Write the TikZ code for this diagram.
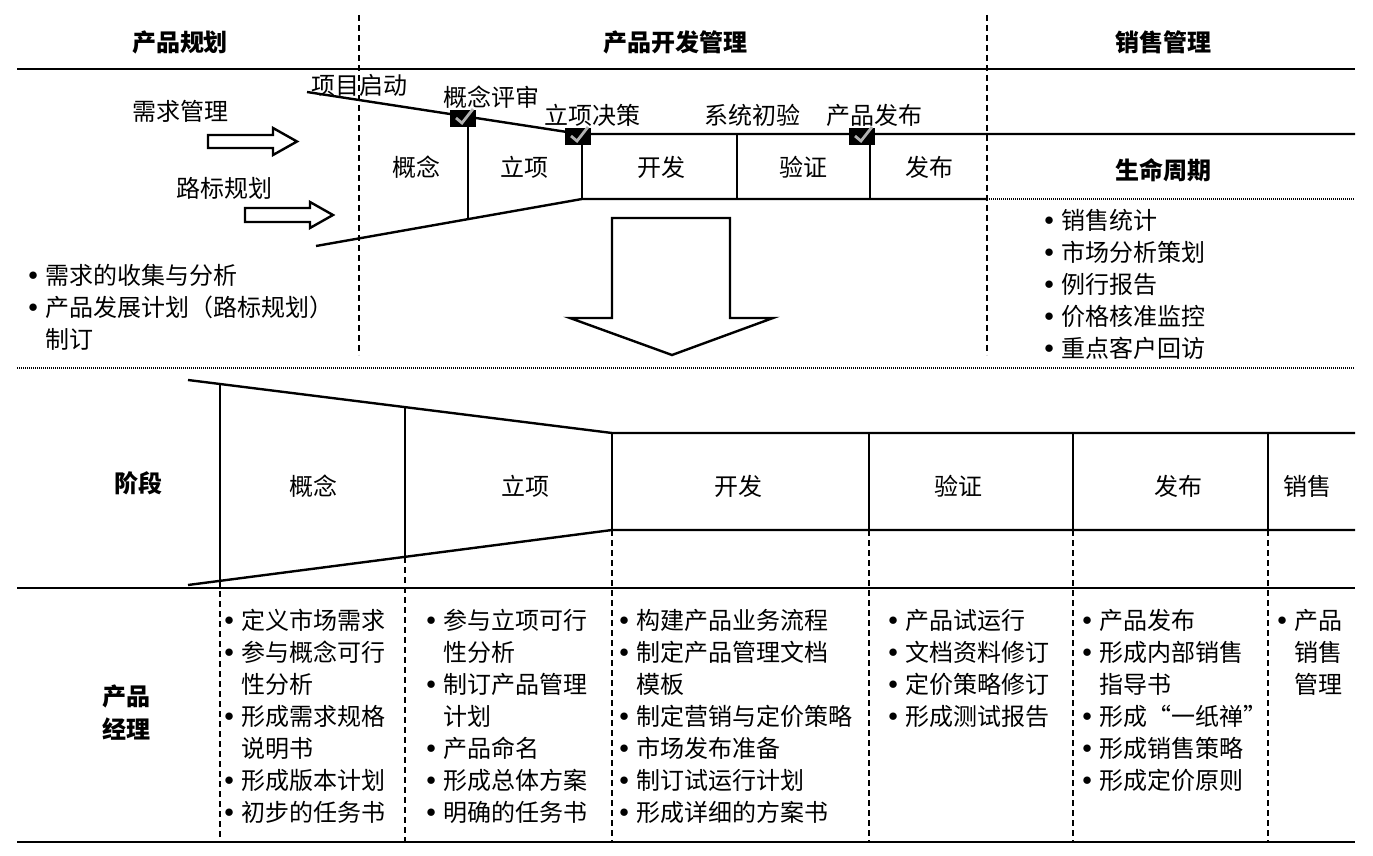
\documentclass[tikz,border=0pt]{standalone}
\usepackage{fontspec}
\setmainfont{Noto Sans CJK SC}

\newcommand{\itm}{\makebox[0.7em][l]{\raisebox{0.3ex}{\scalebox{0.8}{$\bullet$}}}}
\newcommand{\cnt}{\hspace*{0.7em}}

\tikzset{
  hdr/.style={font=\bfseries\fontsize{12}{16}\selectfont, inner sep=0pt},
  lbl/.style={font=\fontsize{12}{16}\selectfont, inner sep=0pt},
  lst/.style={font=\fontsize{12}{16}\selectfont, align=left, anchor=north west, inner sep=0pt},
  solidline/.style={line width=1.2pt},
  divider/.style={line width=1pt},
  dashsep/.style={line width=1pt, dash pattern=on 3pt off 2pt},
  dotrule/.style={line width=1.3pt, dash pattern=on 0.5pt off 0.5pt},
  blockarrow/.style={draw, line width=1.2pt, fill=white},
}

\begin{document}
\begin{tikzpicture}[x=0.5pt, y=-0.5pt]
  \useasboundingbox (0,0) rectangle (1373,856);

  % Column headers
  \node[hdr] (hplan) at (180,42) {产品规划};
  \node[hdr] (hdev) at (675,42) {产品开发管理};
  \node[hdr] (hsale) at (1163,42) {销售管理};
  \draw[solidline] (17,69) -- (1355,69);
  \draw[dashsep] (359,15) -- (359,355);
  \draw[dashsep] (987,15) -- (987,355);

  % Top funnel
  \coordinate (fa) at (307,92);
  \coordinate (fb) at (580,134);
  \coordinate (fc) at (316,246);
  \coordinate (fd) at (582,199);
  \draw[solidline] (fa) -- (fb) -- (1355,134);
  \draw[solidline] (fc) -- (fd) -- (987,199);
  \draw[dotrule] (987,199) -- (1355,199);
  \draw[divider] (468,116) -- (468,219);
  \foreach \x in {582,737,870} {
    \draw[divider] (\x,134) -- (\x,199);
  }

  % Milestone gates
  \foreach \x/\y in {463/119, 578/137, 862/137} {
    \fill (\x-13,\y-9) rectangle (\x+13,\y+8);
    \draw[gray!60, line width=1.4pt] (\x-7,\y-1) -- (\x-1,\y+4) -- (\x+10,\y-10);
  }
  \node[lbl] (mstart) at (359,85) {项目启动};
  \node[lbl] (mconc) at (491,97) {概念评审};
  \node[lbl] (mdec) at (592,115) {立项决策};
  \node[lbl] (mtest) at (752,115) {系统初验};
  \node[lbl] (mrel) at (874,115) {产品发布};

  % Phases (top)
  \node[lbl] (tconc) at (416,167) {概念};
  \node[lbl] (tinit) at (524,167) {立项};
  \node[lbl] (tdev) at (661,167) {开发};
  \node[lbl] (tver) at (803,167) {验证};
  \node[lbl] (trel) at (929,167) {发布};

  % Product planning side
  \node[lbl] (req) at (181,111) {需求管理};
  \node[lbl] (road) at (224,188) {路标规划};
  \draw[blockarrow] (208,135) -- (273,135) -- (273,128) -- (297,141.5) -- (273,155) -- (273,148) -- (208,148) -- cycle;
  \draw[blockarrow] (245,208) -- (310,208) -- (310,202) -- (333,215) -- (310,228) -- (310,222) -- (245,222) -- cycle;
  \node[lst] (planlist) at (28,264) {\itm 需求的收集与分析\\ \itm 产品发展计划（路标规划）\\ \cnt 制订};

  % Big arrow down
  \draw[blockarrow] (612,218) -- (730,218) -- (730,318) -- (773,318) -- (672,355) -- (570,318) -- (612,318) -- cycle;

  % Sales side
  \node[hdr] (life) at (1163,170) {生命周期};
  \node[lst] (salelist) at (1044,209) {\itm 销售统计\\ \itm 市场分析策划\\ \itm 例行报告\\ \itm 价格核准监控\\ \itm 重点客户回访};

  \draw[dotrule] (17,368) -- (1355,368);

  % Bottom funnel and table
  \coordinate (ga) at (188,380);
  \coordinate (gb) at (612,433);
  \coordinate (gc) at (188,585);
  \coordinate (gd) at (612,530);
  \draw[solidline] (ga) -- (gb) -- (1355,433);
  \draw[solidline] (gc) -- (gd) -- (1355,530);
  \draw[divider] (220,384) -- (220,581);
  \draw[divider] (405,407) -- (405,557);
  \foreach \x in {612,869,1073,1268} {
    \draw[divider] (\x,433) -- (\x,530);
    \draw[dashsep] (\x,530) -- (\x,842);
  }
  \draw[dashsep] (220,581) -- (220,842);
  \draw[dashsep] (405,557) -- (405,842);
  \draw[solidline] (17,588) -- (1355,588);
  \draw[solidline] (17,842) -- (1355,842);

  \node[hdr] (stage) at (138,483) {阶段};
  \node[lbl] (bconc) at (313,486) {概念};
  \node[lbl] (binit) at (525,486) {立项};
  \node[lbl] (bdev) at (738,486) {开发};
  \node[lbl] (bver) at (958,486) {验证};
  \node[lbl] (brel) at (1178,486) {发布};
  \node[lbl] (bsale) at (1307,486) {销售};

  \node[hdr, align=center, font=\bfseries\fontsize{12}{16.5}\selectfont] (pm) at (126,713) {产品\\经理};

  % Product manager tasks
  \node[lst] (pmconc) at (224,609) {\itm 定义市场需求\\ \itm 参与概念可行\\ \cnt 性分析\\ \itm 形成需求规格\\ \cnt 说明书\\ \itm 形成版本计划\\ \itm 初步的任务书};
  \node[lst] (pminit) at (426,609) {\itm 参与立项可行\\ \cnt 性分析\\ \itm 制订产品管理\\ \cnt 计划\\ \itm 产品命名\\ \itm 形成总体方案\\ \itm 明确的任务书};
  \node[lst] (pmdev) at (619,609) {\itm 构建产品业务流程\\ \itm 制定产品管理文档\\ \cnt 模板\\ \itm 制定营销与定价策略\\ \itm 市场发布准备\\ \itm 制订试运行计划\\ \itm 形成详细的方案书};
  \node[lst] (pmver) at (888,609) {\itm 产品试运行\\ \itm 文档资料修订\\ \itm 定价策略修订\\ \itm 形成测试报告};
  \node[lst] (pmrel) at (1082,609) {\itm 产品发布\\ \itm 形成内部销售\\ \cnt 指导书\\ \itm 形成“一纸禅”\\ \itm 形成销售策略\\ \itm 形成定价原则};
  \node[lst] (pmsale) at (1277,609) {\itm 产品\\ \cnt 销售\\ \cnt 管理};
\end{tikzpicture}
\end{document}
